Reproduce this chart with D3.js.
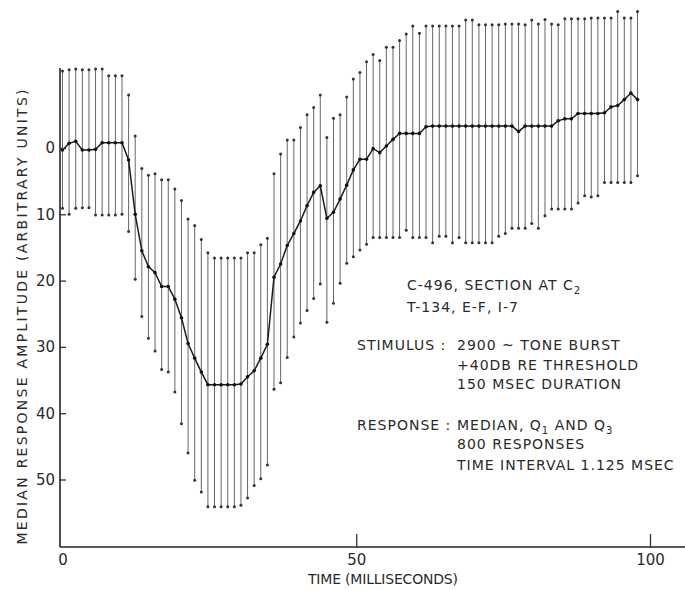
<!DOCTYPE html>
<html>
<head>
<meta charset="utf-8">
<script src="https://cdnjs.cloudflare.com/ajax/libs/d3/7.8.5/d3.min.js"></script>
<style>
body { margin: 0; background: #fff; }
svg text { font-family: "DejaVu Sans", sans-serif; fill: #2a2a2a; }
</style>
</head>
<body>
<div id="chart"></div>
<script>
// sampling interval of the recording (ms)
var step = 1.125;

// median response, one value per time step
var median = [
	0.3, -0.7, -1.0, 0.3, 0.3, 0.2, -0.8, -0.8, -0.8, -0.8,
	1.8, 10.0, 15.5, 17.9, 18.8, 20.9, 20.9, 22.8, 25.6, 29.5,
	31.7, 33.8, 35.7, 35.7, 35.7, 35.7, 35.7, 35.6, 34.5, 33.6,
	31.7, 29.6, 19.5, 17.5, 14.7, 12.9, 11.0, 8.7, 6.7, 5.7,
	10.6, 9.7, 7.7, 5.6, 3.3, 1.7, 1.7, 0.1, 0.7, -0.3,
	-1.3, -2.2, -2.2, -2.2, -2.2, -3.2, -3.3, -3.3, -3.3, -3.3,
	-3.3, -3.3, -3.3, -3.3, -3.3, -3.3, -3.3, -3.3, -3.3, -2.5,
	-3.3, -3.3, -3.3, -3.3, -3.3, -4.1, -4.4, -4.4, -5.2, -5.2,
	-5.2, -5.2, -5.3, -6.2, -6.4, -7.3, -8.3, -7.3
];

// Q1 (upper end of each bar)
var q1 = [
	-11.6, -11.8, -11.9, -11.8, -11.8, -11.9, -11.9, -10.9, -10.9, -10.9,
	-8.0, -1.8, 3.1, 4.1, 3.9, 4.8, 4.8, 6.2, 7.9, 10.7,
	11.7, 13.8, 15.8, 16.6, 16.6, 16.6, 16.6, 16.6, 15.8, 15.8,
	14.6, 13.6, 3.9, 0.9, -1.2, -1.2, -3.1, -5.0, -6.1, -8.0,
	-1.6, -4.5, -5.0, -7.7, -10.4, -11.4, -13.0, -14.1, -13.2, -15.2,
	-15.2, -16.2, -17.2, -18.4, -17.3, -18.4, -18.4, -18.4, -18.4, -18.4,
	-18.4, -19.3, -19.3, -18.6, -18.6, -18.6, -18.6, -18.7, -18.7, -18.7,
	-18.6, -19.3, -18.7, -19.4, -18.7, -18.6, -19.5, -19.5, -19.5, -19.5,
	-19.6, -19.6, -19.6, -19.6, -20.6, -19.6, -19.6, -20.6
];

// Q3 (lower end of each bar)
var q3 = [
	9.1, 10.0, 9.1, 9.0, 9.0, 10.1, 10.1, 10.1, 10.1, 10.0,
	12.6, 19.8, 25.4, 28.7, 30.6, 33.4, 33.8, 36.8, 41.6, 46.0,
	50.1, 51.9, 54.1, 54.1, 54.1, 54.1, 54.1, 53.9, 52.8, 50.9,
	49.9, 47.8, 36.4, 35.4, 31.6, 28.5, 26.4, 24.5, 22.7, 20.5,
	26.3, 23.4, 20.4, 17.4, 16.4, 15.4, 14.5, 13.5, 13.5, 13.5,
	13.5, 13.5, 12.4, 13.5, 13.5, 13.5, 14.3, 13.3, 13.3, 14.3,
	13.5, 14.3, 14.3, 14.3, 14.3, 14.3, 13.3, 12.9, 12.1, 12.1,
	12.1, 11.4, 12.1, 10.2, 9.2, 9.2, 9.2, 9.2, 8.3, 7.2,
	7.4, 7.2, 5.2, 5.2, 5.2, 5.2, 5.2, 4.2
];

var yTicks = [0, 10, 20, 30, 40, 50];
var xTicks = [0, 50, 100];

var data = median.map(function (m, i) {
	return { t: i * step, med: m, lo: q1[i], hi: q3[i] };
});

var width = 685, height = 590;

var x = d3.scaleLinear().domain([0, 100]).range([62.5, 650]);
var y = d3.scaleLinear().domain([0, 50]).range([148, 479.5]);

var svg = d3.select("#chart").append("svg")
	.attr("width", width)
	.attr("height", height);

// quartile bars
svg.selectAll(".bar")
	.data(data)
	.enter().append("line")
	.attr("class", "bar")
	.attr("x1", function (d) { return x(d.t); })
	.attr("x2", function (d) { return x(d.t); })
	.attr("y1", function (d) { return y(d.lo); })
	.attr("y2", function (d) { return y(d.hi); })
	.attr("stroke", "#666")
	.attr("stroke-width", 1);

svg.selectAll(".end-lo")
	.data(data)
	.enter().append("circle")
	.attr("cx", function (d) { return x(d.t); })
	.attr("cy", function (d) { return y(d.lo); })
	.attr("r", 1.5)
	.attr("fill", "#333");

svg.selectAll(".end-hi")
	.data(data)
	.enter().append("circle")
	.attr("cx", function (d) { return x(d.t); })
	.attr("cy", function (d) { return y(d.hi); })
	.attr("r", 1.5)
	.attr("fill", "#333");

// median curve
var line = d3.line()
	.x(function (d) { return x(d.t); })
	.y(function (d) { return y(d.med); });

svg.append("path")
	.datum(data)
	.attr("d", line)
	.attr("fill", "none")
	.attr("stroke", "#1c1c1c")
	.attr("stroke-width", 1.5);

svg.selectAll(".med")
	.data(data)
	.enter().append("circle")
	.attr("cx", function (d) { return x(d.t); })
	.attr("cy", function (d) { return y(d.med); })
	.attr("r", 1.8)
	.attr("fill", "#111");

// axes
var yAxis = d3.axisLeft(y)
	.tickValues(yTicks)
	.tickSizeInner(-6)
	.tickSizeOuter(0)
	.tickPadding(5);

var gy = svg.append("g")
	.attr("transform", "translate(60,0)")
	.call(yAxis);
gy.select(".domain").remove();
gy.selectAll(".tick line").attr("stroke", "#333").attr("stroke-width", 1.3);
gy.selectAll(".tick text").attr("font-size", 15).attr("fill", "#2a2a2a");

var xAxis = d3.axisBottom(x)
	.tickValues(xTicks)
	.tickSizeInner(-13)
	.tickSizeOuter(0)
	.tickPadding(7);

var gx = svg.append("g")
	.attr("transform", "translate(0,547)")
	.call(xAxis);
gx.select(".domain").remove();
gx.selectAll(".tick line")
	.attr("stroke", "#333")
	.attr("stroke-width", 1.3)
	.attr("display", function (d) { return d === 0 ? "none" : null; });
gx.selectAll(".tick text").attr("font-size", 15).attr("fill", "#2a2a2a");

svg.append("line")
	.attr("x1", 60).attr("x2", 60)
	.attr("y1", 68).attr("y2", 547)
	.attr("stroke", "#222").attr("stroke-width", 1.6);
svg.append("line")
	.attr("x1", 60).attr("x2", 685)
	.attr("y1", 547).attr("y2", 547)
	.attr("stroke", "#222").attr("stroke-width", 1.6);

// axis titles
svg.append("text")
	.attr("transform", "translate(27,317) rotate(-90)")
	.attr("text-anchor", "middle")
	.attr("font-size", 14)
	.attr("textLength", 455)
	.attr("lengthAdjust", "spacing")
	.text("MEDIAN RESPONSE AMPLITUDE (ARBITRARY UNITS)");

svg.append("text")
	.attr("x", 383).attr("y", 584)
	.attr("text-anchor", "middle")
	.attr("font-size", 14)
	.attr("textLength", 150)
	.attr("lengthAdjust", "spacing")
	.text("TIME (MILLISECONDS)");

// annotation block
var notes = svg.append("g")
	.attr("font-size", 14)
	.attr("letter-spacing", 1);

function note(px, py, parts) {
	var t = notes.append("text").attr("x", px).attr("y", py);
	parts.forEach(function (p) {
		if (typeof p === "string") {
			t.append("tspan").text(p);
		} else {
			t.append("tspan").attr("baseline-shift", "-4").attr("font-size", 10).text(p.sub);
		}
	});
}

note(407, 290, ["C-496, SECTION AT C", { sub: "2" }]);
note(407, 312, ["T-134, E-F, I-7"]);
note(357, 350, ["STIMULUS :"]);
note(457, 350, ["2900 ~ TONE BURST"]);
note(457, 370, ["+40DB RE THRESHOLD"]);
note(457, 389, ["150 MSEC DURATION"]);
note(357, 430, ["RESPONSE :"]);
note(457, 430, ["MEDIAN, Q", { sub: "1" }, " AND Q", { sub: "3" }]);
note(457, 449, ["800 RESPONSES"]);
note(457, 470, ["TIME INTERVAL 1.125 MSEC"]);
</script>
</body>
</html>
